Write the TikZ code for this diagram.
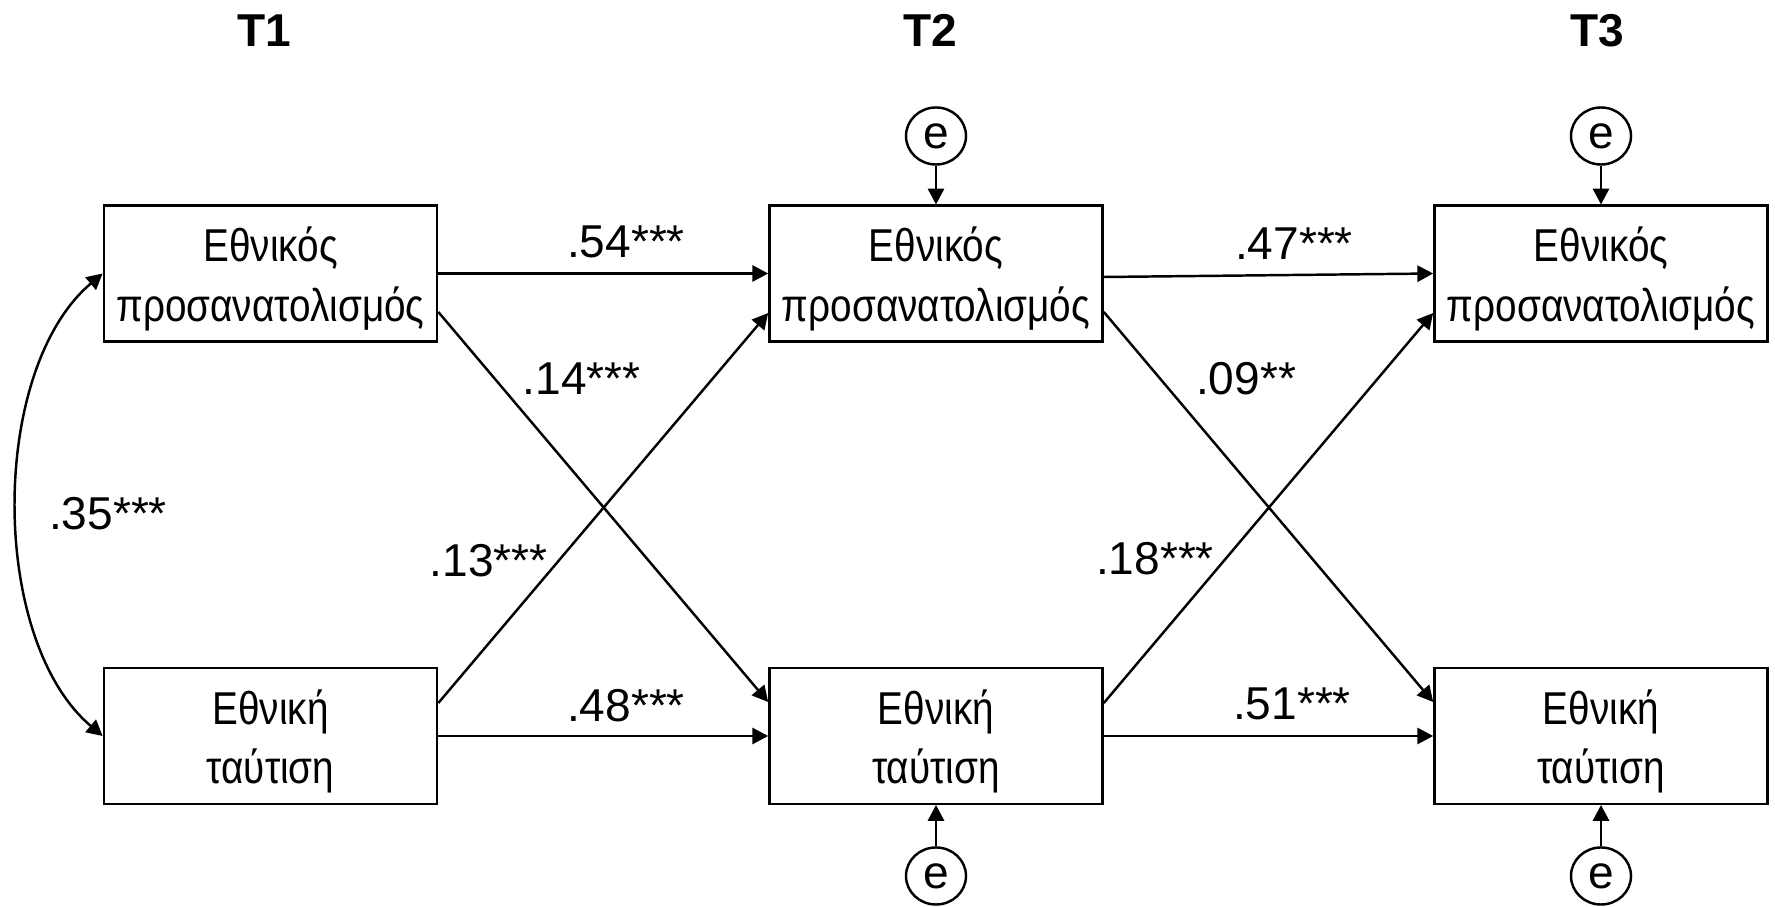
\documentclass[tikz,border=0pt]{standalone}
\usepackage{fontspec}
\usepackage{graphicx}
\setmainfont{Liberation Sans}
\usetikzlibrary{arrows.meta,calc,shapes.geometric}
\newcommand\narrowtxt[1]{\scalebox{0.84}[1]{#1}}
\begin{document}
\begin{tikzpicture}[x=0.01cm,y=-0.01cm,
  box/.style={draw,line width=0.7pt,minimum width=3.33cm,minimum height=1.355cm,inner sep=0pt},
  btxt/.style={font=\fontsize{13.1}{15}\selectfont,inner sep=0pt,anchor=base},
  lab/.style={font=\fontsize{13.1}{15}\selectfont,inner sep=0pt,anchor=base},
  hdr/.style={font=\fontsize{13.1}{15}\selectfont\bfseries,inner sep=0pt,anchor=base},
  err/.style={draw,ellipse,line width=0.7pt,minimum width=0.6cm,minimum height=0.57cm,inner sep=0pt,font=\fontsize{13.1}{15}\selectfont},
  arr/.style={line width=0.7pt,-{Triangle[length=4.5pt,width=4.6pt]}},
  darr/.style={line width=0.7pt,{Triangle[length=4.5pt,width=4.6pt]}-{Triangle[length=4.5pt,width=4.6pt]}},
]
\useasboundingbox (0,0) rectangle (1775,907);

% headers
\node[hdr] (h1) at (264,47) {T1};
\node[hdr] (h2) at (930,47) {T2};
\node[hdr] (h3) at (1597,47) {T3};

% boxes
\node[box] (t1e) at (270.5,273.5) {};
\node[box] (t2e) at (936,273.5) {};
\node[box] (t3e) at (1601,273.5) {};
\node[box] (t1i) at (270.5,736) {};
\node[box] (t2i) at (936,736) {};
\node[box] (t3i) at (1601,736) {};

% box texts
\foreach \b in {t1e,t2e,t3e}{
  \node[btxt] (\b-a) at ($(\b.center)+(0,-11.5)$) {\narrowtxt{Εθνικός}};
  \node[btxt] (\b-b) at ($(\b.center)+(0,48)$) {\narrowtxt{προσανατολισμός}};
}
\foreach \b in {t1i,t2i,t3i}{
  \node[btxt] (\b-a) at ($(\b.center)+(0,-11.5)$) {\narrowtxt{Εθνική}};
  \node[btxt] (\b-b) at ($(\b.center)+(0,48)$) {\narrowtxt{ταύτιση}};
}

% error terms
\node[err] (e2e) at (936,136) {e};
\node[err] (e3e) at (1601,136) {e};
\node[err] (e2i) at (936,876) {e};
\node[err] (e3i) at (1601,876) {e};

\draw[arr] (e2e.south) -- (t2e.north);
\draw[arr] (e3e.south) -- (t3e.north);
\draw[arr] (e2i.north) -- (t2i.south);
\draw[arr] (e3i.north) -- (t3i.south);

% paths T1 -> T2
\draw[arr] (t1e.east) -- (t2e.west);
\draw[arr] (t1i.east) -- (t2i.west);
\draw[arr] ($(t1e.east)+(0,38.5)$) -- ($(t2i.west)+(0,-34)$);
\draw[arr] ($(t1i.east)+(0,-33)$) -- ($(t2e.west)+(0,39.5)$);

% paths T2 -> T3
\draw[arr] ($(t2e.east)+(0,3.5)$) -- (t3e.west);
\draw[arr] (t2i.east) -- (t3i.west);
\draw[arr] ($(t2e.east)+(0,38.5)$) -- ($(t3i.west)+(0,-34)$);
\draw[arr] ($(t2i.east)+(0,-33)$) -- ($(t3e.west)+(0,39.5)$);

% correlation
\coordinate (c1) at (-11,369.5);
\coordinate (c2) at (-11,640);
\draw[darr] (t1e.west) .. controls (c1) and (c2) .. (t1i.west);

% coefficients
\node[lab] (l54) at (626,258) {.54***};
\node[lab] (l47) at (1294,260) {.47***};
\node[lab] (l14) at (581.5,395) {.14***};
\node[lab] (l09) at (1246,395) {.09**};
\node[lab] (l13) at (488.5,577) {.13***};
\node[lab] (l18) at (1155,575) {.18***};
\node[lab] (l48) at (626,722) {.48***};
\node[lab] (l51) at (1292,720) {.51***};
\node[lab] (l35) at (108,530) {.35***};
\end{tikzpicture}
\end{document}
